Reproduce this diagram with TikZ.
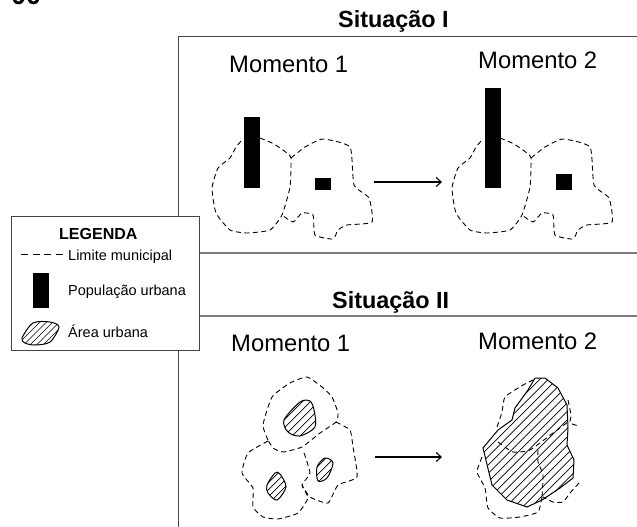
\documentclass[tikz,border=0pt]{standalone}
\usepackage{fontspec}
\setmainfont{Liberation Sans}
\usetikzlibrary{arrows.meta}
\definecolor{rule}{HTML}{444444}
\tikzset{
  frameline/.style={draw=rule,line width=0.9pt},
  sepline/.style={draw=rule!70,line width=1.1pt},
  limit/.style={draw=black,line width=0.9pt,dash pattern=on 5pt off 3.5pt},
  urban/.style={draw=black,line width=1pt},
  hatchline/.style={draw=black,line width=0.7pt},
  bar/.style={fill=black,draw=none,inner sep=0pt,minimum width=16pt,outer sep=0pt},
  flow/.style={draw=black,line width=1.1pt,-{Straight Barb[length=5pt,width=9pt,line width=1.1pt]}},
  moment/.style={font=\fontsize{23.8}{26}\selectfont,anchor=base west,inner sep=0pt},
  heading/.style={font=\fontsize{23.4}{26}\selectfont\bfseries,anchor=base west,inner sep=0pt},
  legendtext/.style={font=\fontsize{14.5}{18}\selectfont,anchor=base west,inner sep=0pt},
}
\newcommand{\hatchshape}[6]{% path, x-start, x-end, step, ytop, ybottom
  \begin{scope}
    \clip #1;
    \pgfmathsetmacro{\hnext}{#2+#4}
    \foreach \hx in {#2,\hnext,...,#3}{
      \draw[hatchline] (\hx,#6) -- (\hx+#6-#5,#5);
    }
  \end{scope}
  \draw[urban] #1;
}
\newcommand{\muniLeft}{plot[smooth,tension=0.3] coordinates {(500,138) (514,144) (527,153) (531,158) (530,187) (522,215) (510,230) (487,233) (470,230) (456,213) (452,188) (458,168) (470,158) (476,147) (483,139)}}
\newcommand{\muniRight}{plot[smooth,tension=0.3] coordinates {(531,158) (545,147) (563,139) (590,147) (594,185) (609,198) (612,222) (587,225) (578,230) (573,239) (555,235) (553,215) (542,213) (533,222) (522,215)}}
\begin{document}
\begin{tikzpicture}[x=1pt,y=-1pt]
\useasboundingbox (0,0) rectangle (637,527);
% frames
\coordinate (ftl) at (178,36); \coordinate (ftr) at (637,36);
\coordinate (fbl) at (178,527);
\draw[frameline] (fbl) -- (ftl) -- (ftr);
\coordinate (s1l) at (199,253); \coordinate (s1r) at (637,253);
\coordinate (s2l) at (199,316); \coordinate (s2r) at (637,316);
\draw[sepline] (s1l) -- (s1r);
\draw[sepline] (s2l) -- (s2r);
% cropped number
\node[font=\fontsize{27}{29}\selectfont\bfseries,anchor=base west,inner sep=0pt] (num) at (11,5) {00};
% headings
\node[heading] (sit1) at (338,28) {Situação I};
\node[heading] (sit2) at (332,308) {Situação II};
\node[moment] (m11) at (229,72) {Momento 1};
\node[moment] (m12) at (478,69) {Momento 2};
\node[moment] (m21) at (231,351) {Momento 1};
\node[moment] (m22) at (478,349) {Momento 2};
% Situation I, moment 1
\begin{scope}[xshift=-240pt]
  \draw[limit] \muniLeft;
  \draw[limit] \muniRight;
\end{scope}
\node[bar,minimum height=71pt] (b11) at (252,152.5) {};
\node[bar,minimum height=12pt] (b12) at (323,184) {};
% Situation I, moment 2
\draw[limit] \muniLeft;
\draw[limit] \muniRight;
\node[bar,minimum height=100pt] (b21) at (493,138) {};
\node[bar,minimum height=16pt] (b22) at (564,182) {};
% arrows
\coordinate (a1s) at (374,182); \coordinate (a1e) at (442,182);
\draw[flow] (a1s) -- (a1e);
\coordinate (a2s) at (375,457); \coordinate (a2e) at (442,457);
\draw[flow] (a2s) -- (a2e);
% Situation II, moment 1
\draw[limit] plot[smooth,tension=0.3] coordinates {(268,440) (263,425) (272,397) (290,383) (307,377) (322,387) (332,397) (338,413) (336,422) (320,433) (302,447) (283,452) (273,448) (268,440)};
\draw[limit] plot[smooth,tension=0.3] coordinates {(268,441) (248,453) (242,473) (253,488) (253,507) (263,517) (278,519) (298,513) (308,498) (302,485) (310,473) (303,450)};
\draw[limit] plot[smooth,tension=0.3] coordinates {(336,422) (350,430) (353,447) (357,477) (338,485) (328,503) (310,497) (302,485)};
\hatchshape{plot[smooth cycle,tension=0.5] coordinates {(284,420) (300,402) (310,401) (314,410) (315,427) (300,436) (288,432)}}{240}{400}{8}{395}{440}
\hatchshape{plot[smooth cycle,tension=0.5] coordinates {(275,473) (280,474) (286,487) (277,500) (268,493) (267,485)}}{225}{360}{7}{468}{505}
\hatchshape{plot[smooth cycle,tension=0.5] coordinates {(325,458) (333,463) (327,478) (318,481) (317,467)}}{283}{400}{8}{454}{485}
% Situation II, moment 2
\draw[limit] plot[smooth,tension=0.3] coordinates {(497,427) (502,412) (505,397) (523,385) (535,379)};
\draw[limit] plot[smooth,tension=0.3] coordinates {(568,400) (571,415) (570,423) (579,426)};
\draw[limit] plot[smooth,tension=0.3] coordinates {(579,483) (570,493) (563,502) (553,502) (543,497)};
\draw[limit] plot[smooth,tension=0.3] coordinates {(482,457) (477,472) (485,488) (488,508) (500,518) (520,517) (538,512) (542,497)};
\hatchshape{plot coordinates {(535,378) (545,378) (558,388) (567,405) (568,428) (567,445) (574,460) (573,478) (560,488) (542,500) (527,507) (507,500) (492,485) (483,448) (498,430) (512,420) (515,408) (528,390) (535,378)}}{336}{600}{8.5}{370}{515}
\draw[limit] plot[smooth,tension=0.3] coordinates {(498,442) (513,452) (530,450) (553,433) (568,422)};
\draw[limit] plot[smooth,tension=0.3] coordinates {(538,450) (538,462) (543,475) (542,497)};
% legend
\node[draw=rule,line width=0.9pt,fill=white,inner sep=0pt,minimum width=188pt,minimum height=134pt,anchor=north west] (legend) at (11,216) {};
\node[font=\fontsize{16}{18}\selectfont\bfseries,anchor=base west,inner sep=0pt] (ltitle) at (59,239) {LEGENDA};
\coordinate (ld1) at (21,254); \coordinate (ld2) at (64,254);
\draw[black,line width=0.9pt,dash pattern=on 7pt off 4.5pt] (ld1) -- (ld2);
\node[legendtext] (l1) at (68,260) {Limite municipal};
\node[bar,minimum height=35pt] (lbar) at (41,290.5) {};
\node[legendtext] (l2) at (68,295) {População urbana};
\hatchshape{plot[smooth cycle,tension=0.5] coordinates {(22,338) (33,323) (50,322) (59,327) (50,342) (35,345) (25,343)}}{-14}{70}{6.5}{318}{350}
\node[legendtext] (l3) at (68,337) {Área urbana};
\end{tikzpicture}
\end{document}
